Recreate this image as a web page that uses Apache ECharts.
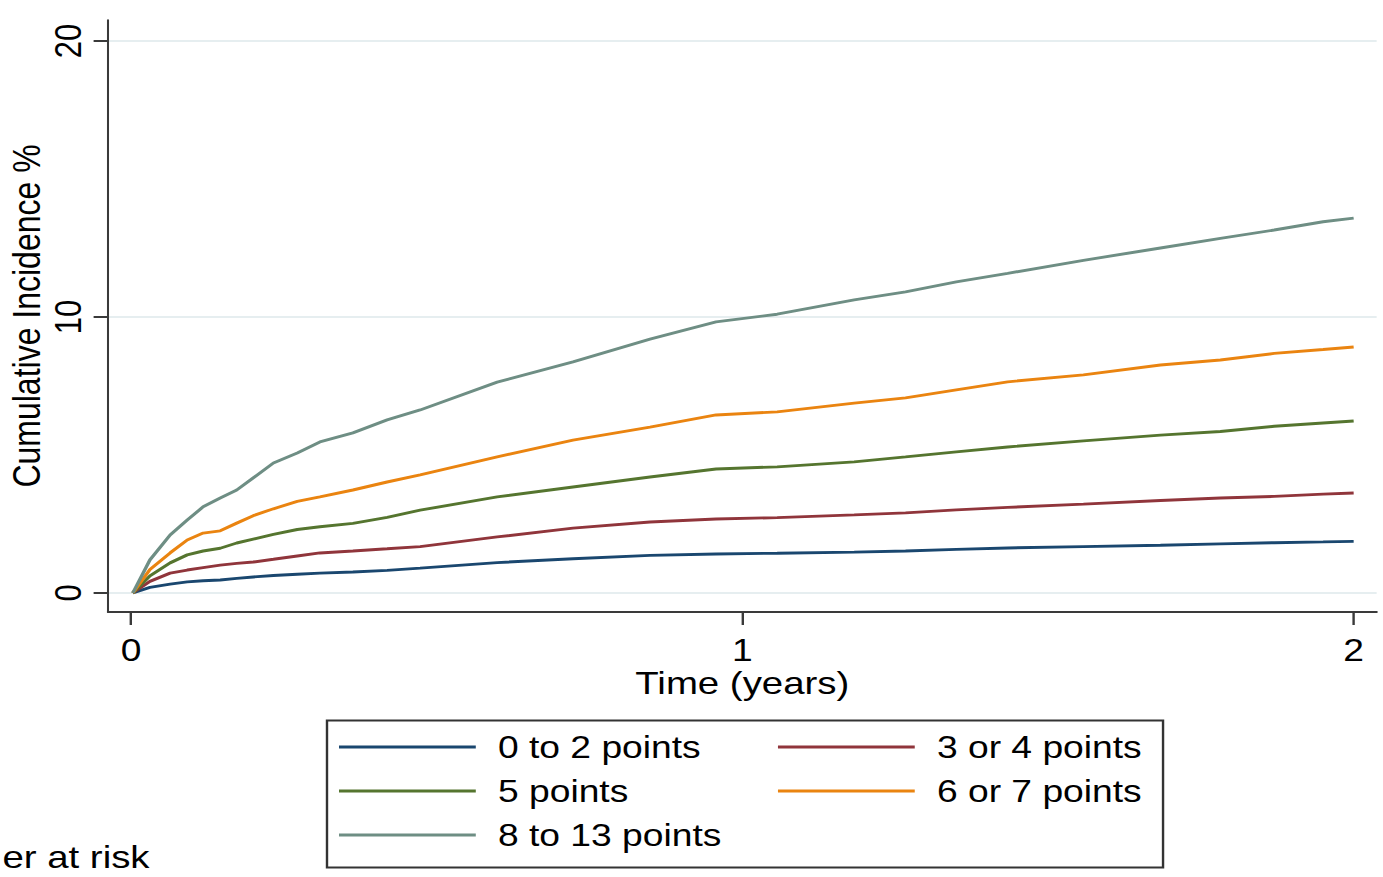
<!DOCTYPE html>
<html>
<head>
<meta charset="utf-8">
<script src="https://cdn.jsdelivr.net/npm/echarts@6/dist/echarts.min.js"></script>
<style>
    html, body { margin: 0; padding: 0; background: #fff; overflow: hidden; }
    /* the picture is a bit wider than tall in its glyphs, so stretch the whole chart */
    #chart { width: 1152.5px; height: 877px; transform: scaleX(1.2); transform-origin: 0 0; }
</style>
</head>
<body>
<div id="chart"></div>
<script>
// time (years)
var times = [0.003, 0.031, 0.064, 0.092, 0.118, 0.146, 0.173, 0.2, 0.233, 0.272, 0.309, 0.363, 0.419, 0.473,
    0.599, 0.723, 0.849, 0.957, 1.057, 1.183, 1.267, 1.35, 1.434, 1.558, 1.684, 1.782, 1.87, 1.95, 2.0];

// cumulative incidence %
var pts0to2 = [0, 0.2, 0.32, 0.4, 0.44, 0.47, 0.53, 0.58, 0.63, 0.68, 0.72, 0.76, 0.82, 0.9,
    1.1, 1.24, 1.36, 1.41, 1.44, 1.48, 1.52, 1.58, 1.63, 1.68, 1.73, 1.78, 1.82, 1.85, 1.87];
var pts3or4 = [0, 0.42, 0.72, 0.83, 0.92, 1.01, 1.07, 1.12, 1.22, 1.34, 1.45, 1.52, 1.6, 1.68,
    2.03, 2.35, 2.57, 2.68, 2.73, 2.83, 2.9, 3.01, 3.1, 3.22, 3.35, 3.44, 3.5, 3.58, 3.62];
var pts5 = [0, 0.62, 1.09, 1.38, 1.52, 1.62, 1.81, 1.95, 2.12, 2.3, 2.4, 2.52, 2.74, 3.0,
    3.48, 3.84, 4.2, 4.49, 4.57, 4.75, 4.93, 5.11, 5.29, 5.51, 5.72, 5.85, 6.04, 6.16, 6.23];
var pts6or7 = [0, 0.85, 1.45, 1.92, 2.17, 2.25, 2.53, 2.8, 3.05, 3.32, 3.48, 3.73, 4.02, 4.28,
    4.93, 5.54, 6.01, 6.45, 6.56, 6.88, 7.07, 7.36, 7.65, 7.9, 8.26, 8.44, 8.68, 8.82, 8.91];
var pts8to13 = [0, 1.2, 2.1, 2.64, 3.12, 3.44, 3.73, 4.17, 4.71, 5.07, 5.47, 5.8, 6.27, 6.63,
    7.64, 8.37, 9.2, 9.82, 10.1, 10.62, 10.91, 11.27, 11.58, 12.05, 12.5, 12.85, 13.15, 13.45, 13.58];

var groupNames = ['0 to 2 points', '3 or 4 points', '5 points', '6 or 7 points', '8 to 13 points'];
var groupColors = ['#1a476f', '#90353b', '#55752f', '#ea8410', '#6e8e84'];
var groupData = [pts0to2, pts3or4, pts5, pts6or7, pts8to13];

var xTicks = [0, 1, 2];
var yTicks = [0, 10, 20];

var fontName = '"Liberation Sans", Arial, sans-serif';

var myChart = echarts.init(document.getElementById('chart'), null, { renderer: 'svg' });

var serial = [];
for (var i = 0; i < groupNames.length; i++) {
    var pairs = [];
    for (var j = 0; j < times.length; j++) {
        pairs.push([times[j], groupData[i][j]]);
    }
    serial.push({
        name: groupNames[i],
        type: 'line',
        data: pairs,
        showSymbol: false,
        symbol: 'none',
        color: groupColors[i],
        lineStyle: { width: 2.9, color: groupColors[i] }
    });
}

function legendBlock(left, names) {
    return {
        orient: 'vertical',
        left: left,
        top: 725,
        padding: 0,
        itemGap: 0,
        itemWidth: 114,
        itemHeight: 3,
        icon: 'rect',
        data: names,
        selectedMode: false,
        textStyle: {
            fontFamily: fontName,
            fontSize: 31,
            color: '#000',
            lineHeight: 44,
            padding: [0, 0, 0, 13.5]
        }
    };
}

var option = {
    animation: false,
    backgroundColor: '#fff',
    grid: { left: 90, right: 5.8, top: 20, bottom: 265, containLabel: false, outerBoundsMode: 'none' },
    xAxis: {
        type: 'value',
        min: -0.0376,
        max: 2.0376,
        name: 'Time (years)',
        nameLocation: 'middle',
        nameGap: 55,
        nameMoveOverlap: false,
        nameTextStyle: { fontFamily: fontName, fontSize: 32, color: '#000' },
        axisLine: { show: true, onZero: false, lineStyle: { color: '#3a3a3a', width: 2 } },
        axisTick: { show: true, length: 13, customValues: xTicks, lineStyle: { color: '#3a3a3a', width: 2 } },
        axisLabel: { customValues: xTicks, margin: 23, fontFamily: fontName, fontSize: 31, color: '#000' },
        splitLine: { show: false }
    },
    yAxis: {
        type: 'value',
        min: -0.69,
        max: 20.76,
        name: 'Cumulative Incidence %',
        nameLocation: 'middle',
        nameRotate: 90,
        nameGap: 52,
        nameMoveOverlap: false,
        nameTextStyle: { fontFamily: fontName, fontSize: 32, color: '#000' },
        axisLine: { show: true, onZero: false, lineStyle: { color: '#3a3a3a', width: 1.7 } },
        axisTick: { show: true, length: 12, customValues: yTicks, lineStyle: { color: '#3a3a3a', width: 2 } },
        axisLabel: { customValues: yTicks, rotate: 90, margin: 18, fontFamily: fontName, fontSize: 31, color: '#000' },
        splitLine: { show: true, lineStyle: { color: '#e6eef0', width: 2 } }
    },
    legend: [
        legendBlock(282.5, [groupNames[0], groupNames[2], groupNames[4]]),
        legendBlock(648.3, [groupNames[1], groupNames[3]])
    ],
    graphic: [
        {
            type: 'rect',
            left: 270,
            top: 718,
            shape: { width: 696.7, height: 147 },
            style: { fill: 'none', stroke: '#333', lineWidth: 2 },
            silent: true
        },
        {
            // only the tail of "Number at risk" is inside the picture
            type: 'text',
            left: 2,
            top: 841,
            style: { text: 'er at risk', fontFamily: fontName, fontSize: 32, lineHeight: 31, fill: '#000' },
            silent: true
        }
    ],
    series: serial
};

myChart.setOption(option);
</script>
</body>
</html>
